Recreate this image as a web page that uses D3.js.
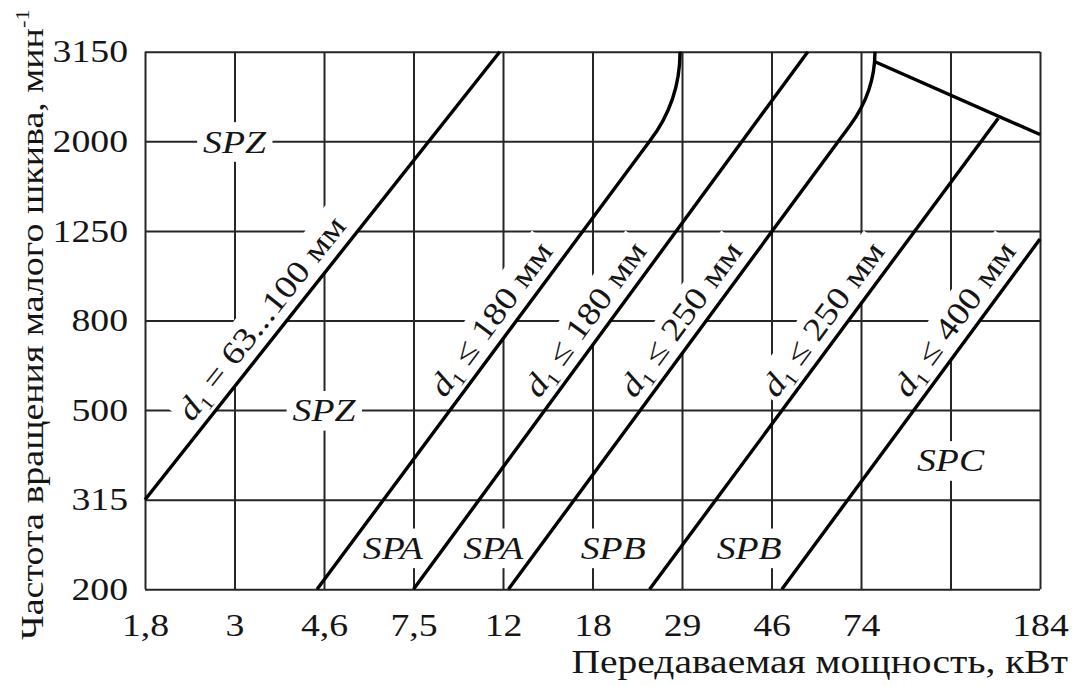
<!DOCTYPE html>
<html>
<head>
<meta charset="utf-8">
<script src="https://cdn.jsdelivr.net/npm/d3@7"></script>
<style>
  body { margin: 0; background: #fff; }
  svg { display: block; }
  text { font-family: "Liberation Serif", "Times New Roman", serif; fill: #151515; }
</style>
</head>
<body>
<svg id="chart" width="1075" height="686"></svg>
<script>
// Power axis (kW) and pulley speed axis (min^-1), both logarithmic
const powerTicks  = [1.8, 3, 4.6, 7.5, 12, 18, 29, 46, 74, 118, 184];
const powerLabels = ["1,8", "3", "4,6", "7,5", "12", "18", "29", "46", "74", "", "184"];
const speedTicks  = [200, 315, 500, 800, 1250, 2000, 3150];
const speedLabels = ["200", "315", "500", "800", "1250", "2000", "3150"];

// Boundary lines: [power kW, speed min^-1]
const lineSPZ100 = [[1.8, 315], [11.8, 3150]];
const lineSPZ180 = [[4.45, 200], [24.4, 2000]];
const bendSPZ180 = [[28.7, 2448], [28.7, 3150]];   // control point, end point
const lineSPA180 = [[7.5, 200], [55.8, 3150]];
const lineSPA250 = [[12.3, 200], [69.8, 2167]];
const bendSPA250 = [[79.6, 2573], [79.6, 3150]];
const lineSPB250 = [[24.4, 200], [149.6, 2248]];
const lineSPC400 = [[48.6, 200], [184, 1200]];
const lineSPCtop = [[79.6, 2994], [184, 2070]];

// Diameter labels along the lines
const diameterLines = [lineSPZ100, lineSPZ180, lineSPA180, lineSPA250, lineSPB250, lineSPC400];
const diameterSigns = ["=", "≤", "≤", "≤", "≤", "≤"];
const diameterText  = ["63...100 мм", "180 мм", "180 мм", "250 мм", "250 мм", "400 мм"];

// Belt section zone labels: name, power kW, speed min^-1
const zoneNames = ["SPZ", "SPZ", "SPA", "SPA", "SPB", "SPB", "SPC"];
const zonePower = [3, 4.6, 6.7, 11.4, 20.1, 41, 118];
const zoneSpeed = [2000, 500, 247, 247, 247, 247, 386];

const svg = d3.select("#chart");
const plotLeft = 145, plotRight = 1040, plotTop = 51.7, plotBottom = 589.3;
const fontSize = 32, wide = 1.18;      // wide serif face: horizontal stretch of glyphs

const x = d3.scaleLog()
  .domain(powerTicks)
  .range(powerTicks.map((d, i) => plotLeft + i * (plotRight - plotLeft) / (powerTicks.length - 1)));
const y = d3.scaleLog()
  .domain(speedTicks)
  .range(speedTicks.map((d, i) => plotBottom - i * (plotBottom - plotTop) / (speedTicks.length - 1)));

const gridColor = "#262626";

// Grid + tick labels via axes
const gx = svg.append("g")
  .attr("transform", `translate(0,${plotBottom})`)
  .call(d3.axisBottom(x).tickValues(powerTicks)
    .tickFormat((d, i) => powerLabels[i])
    .tickSize(-(plotBottom - plotTop)).tickPadding(24));
const gy = svg.append("g")
  .attr("transform", `translate(${plotLeft},0)`)
  .call(d3.axisLeft(y).tickValues(speedTicks)
    .tickFormat((d, i) => speedLabels[i])
    .tickSize(-(plotRight - plotLeft)).tickPadding(17));

[gx, gy].forEach(g => {
  g.attr("font-family", null).attr("font-size", null);
  g.select(".domain").remove();
  g.selectAll(".tick line").attr("stroke", gridColor).attr("stroke-width", 2);
  g.selectAll(".tick text")
    .attr("font-size", fontSize)
    .attr("fill", "#151515")
    .attr("transform", `scale(${wide},1)`);
});
gy.selectAll(".tick text").attr("x", -17 / wide);

// Layers: label backgrounds over grid, then lines, then label text
const maskLayer = svg.append("g");
const lineLayer = svg.append("g");
const textLayer = svg.append("g");

function pathOf(pts, bend) {
  const p = d3.path();
  p.moveTo(x(pts[0][0]), y(pts[0][1]));
  pts.slice(1).forEach(q => p.lineTo(x(q[0]), y(q[1])));
  if (bend) p.quadraticCurveTo(x(bend[0][0]), y(bend[0][1]), x(bend[1][0]), y(bend[1][1]));
  return p.toString();
}

const curves = [
  [lineSPZ100, null], [lineSPZ180, bendSPZ180], [lineSPA180, null],
  [lineSPA250, bendSPA250], [lineSPB250, null], [lineSPC400, null], [lineSPCtop, null]
];
lineLayer.selectAll("path").data(curves).join("path")
  .attr("d", d => pathOf(d[0], d[1]))
  .attr("fill", "none")
  .attr("stroke", "#000")
  .attr("stroke-width", 3.4)
  .attr("stroke-linejoin", "round");

function addMask(transform, bb, padX, padY) {
  maskLayer.append("rect")
    .attr("transform", transform)
    .attr("x", bb.x - padX).attr("y", bb.y - padY)
    .attr("width", bb.width + 2 * padX).attr("height", bb.height + 2 * padY)
    .attr("fill", "#fff");
}

// Diameter labels, laid parallel to each line near the 800 min^-1 level
diameterLines.forEach((ln, i) => {
  const x0 = x(ln[0][0]), y0 = y(ln[0][1]), x1 = x(ln[1][0]), y1 = y(ln[1][1]);
  const len = Math.hypot(x1 - x0, y1 - y0);
  const ux = (x1 - x0) / len, uy = (y1 - y0) / len;
  const nx = uy, ny = -ux;                   // normal toward upper-left
  const py = y(800);
  const t = (py - y0) / (y1 - y0);
  const px = x0 + t * (x1 - x0);
  const along = -14, off = 11;
  const cx = px + ux * along + nx * off;
  const cy = py + uy * along + ny * off;
  const ang = Math.atan2(y1 - y0, x1 - x0) * 180 / Math.PI;
  const tr = `translate(${cx},${cy}) rotate(${ang}) scale(${wide},1)`;
  const t0 = textLayer.append("text")
    .attr("transform", tr)
    .attr("text-anchor", "middle")
    .attr("font-size", fontSize);
  t0.append("tspan").attr("font-style", "italic").text("d");
  t0.append("tspan").attr("font-size", 19).attr("dy", 6).text("1");
  t0.append("tspan").attr("dy", -6).text(" " + diameterSigns[i] + " " + diameterText[i]);
  addMask(tr, t0.node().getBBox(), 3, 2);
});

// Belt section names
zoneNames.forEach((name, i) => {
  const tr = `translate(${x(zonePower[i])},${y(zoneSpeed[i])}) scale(${wide},1)`;
  const t0 = textLayer.append("text")
    .attr("transform", tr)
    .attr("text-anchor", "middle")
    .attr("dy", "0.35em")
    .attr("font-size", fontSize)
    .attr("font-style", "italic")
    .text(name);
  addMask(tr, t0.node().getBBox(), 5, 2);
});

// Axis titles
svg.append("text")
  .attr("transform", `translate(1068,673) scale(${wide},1)`)
  .attr("text-anchor", "end")
  .attr("font-size", 33.5)
  .text("Передаваемая мощность, кВт");

const yt = svg.append("text")
  .attr("transform", `translate(43,640) rotate(-90) scale(${wide},1)`)
  .attr("font-size", 32.2);
yt.append("tspan").text("Частота вращения малого шкива, мин");
yt.append("tspan").attr("font-size", 19).attr("dy", -14).text("-1");
</script>
</body>
</html>
